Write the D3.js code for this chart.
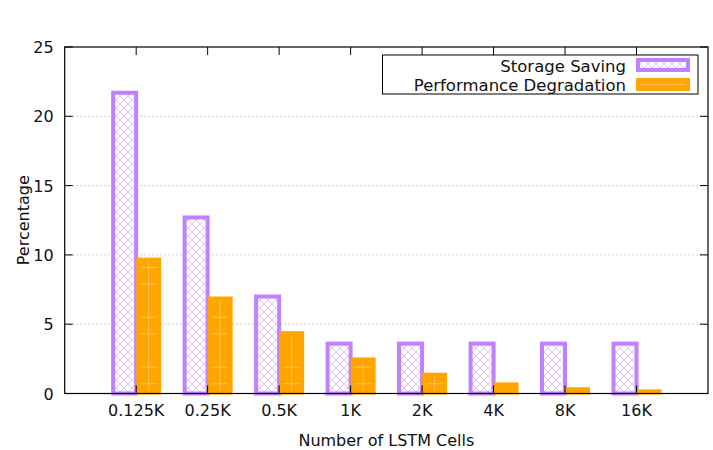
<!DOCTYPE html>
<html lang="en">
	<head>
		<meta charset="utf-8">
		<title>LSTM cells chart</title>
		<script type="text/javascript" src="https://cdn.jsdelivr.net/npm/d3@7"></script>
		<style type="text/css">
			body { margin: 0; background: #fff; }
			text { font-family: "DejaVu Sans", sans-serif; fill: #111; }
		</style>
	</head>
	<body>
		<script type="text/javascript">

			//Data
			var categories = ["0.125K", "0.25K", "0.5K", "1K", "2K", "4K", "8K", "16K"];
			var storageSaving = [21.7, 12.7, 7.0, 3.6, 3.6, 3.6, 3.6, 3.6];
			var perfDegradation = [9.8, 7.0, 4.5, 2.6, 1.5, 0.8, 0.45, 0.3];
			var yTicks = [0, 5, 10, 15, 20, 25];
			var seriesNames = ["Storage Saving", "Performance Degradation"];

			//Width and height (note: "top" is taken by window.top)
			var w = 713;
			var h = 450;
			var plotL = 64.7, plotR = 708, plotT = 47, plotB = 393.5;

			var purple = "#c080ff";
			var orange = "#ffa500";
			var fontSize = "16px";
			var legendFont = "16.5px";

			var svg = d3.select("body")
						.append("svg")
						.attr("width", w)
						.attr("height", h);

			//Scales (index domain, gnuplot style -1 .. n)
			var xScale = d3.scaleLinear()
							.domain([-1, categories.length])
							.range([plotL, plotR]);
			var yScale = d3.scaleLinear()
							.domain([0, 25])
							.range([plotB, plotT]);

			var barW = 0.35;

			//Patterns
			var defs = svg.append("defs");
			var hatch = defs.append("pattern")
				.attr("id", "hatch")
				.attr("patternUnits", "userSpaceOnUse")
				.attr("width", 8)
				.attr("height", 8);
			hatch.append("rect").attr("width", 8).attr("height", 8).attr("fill", "#fff");
			hatch.append("path")
				.attr("d", "M0,0L8,8M8,0L0,8")
				.attr("stroke", "#d9bcff")
				.attr("stroke-width", 0.9);

			//Grid
			svg.append("g")
				.selectAll("line")
				.data(yTicks.filter(function(d) { return d > 0 && d < 25; }))
				.enter()
				.append("line")
				.attr("x1", plotL)
				.attr("x2", plotR)
				.attr("y1", function(d) { return yScale(d); })
				.attr("y2", function(d) { return yScale(d); })
				.attr("stroke", "#999")
				.attr("stroke-width", 1)
				.attr("stroke-dasharray", "1,3");

			//Storage bars
			svg.append("g")
				.selectAll("rect")
				.data(storageSaving)
				.enter()
				.append("rect")
				.attr("x", function(d, i) { return xScale(i - barW) + 2; })
				.attr("y", function(d) { return yScale(d); })
				.attr("width", function() { return xScale(barW) - xScale(0) - 2; })
				.attr("height", function(d) { return yScale(0) - yScale(d); })
				.attr("fill", "url(#hatch)")
				.attr("stroke", purple)
				.attr("stroke-width", 4);

			//Performance bars
			var pg = svg.append("g");
			pg.selectAll("rect")
				.data(perfDegradation)
				.enter()
				.append("rect")
				.attr("x", function(d, i) { return xScale(i); })
				.attr("y", function(d) { return yScale(d); })
				.attr("width", function() { return xScale(barW) - xScale(0); })
				.attr("height", function(d) { return yScale(0) - yScale(d) + 1; })
				.attr("fill", orange);

			//faint marks inside orange bars
			var markYs = [0.7, 1.9, 4.3, 5.5, 7.9, 9.1];
			perfDegradation.forEach(function(d, i) {
				var x0 = xScale(i), x1 = xScale(i + barW);
				var cx = (x0 + x1) / 2;
				var yTop = yScale(d);
				if (yScale(0) - yTop > 20) {
					pg.append("line")
						.attr("x1", cx).attr("x2", cx)
						.attr("y1", yTop + 4).attr("y2", yScale(0) - 3)
						.attr("stroke", "#ffcf78").attr("stroke-width", 0.7);
					markYs.filter(function(m) { return m < d - 0.2; }).forEach(function(m) {
						pg.append("line")
							.attr("x1", x0 + 4).attr("x2", x1 - 4)
							.attr("y1", yScale(m)).attr("y2", yScale(m))
							.attr("stroke", "#ffcf78").attr("stroke-width", 0.7);
					});
				}
			});

			//Frame
			svg.append("rect")
				.attr("x", plotL)
				.attr("y", plotT)
				.attr("width", plotR - plotL)
				.attr("height", plotB - plotT)
				.attr("fill", "none")
				.attr("stroke", "#000")
				.attr("stroke-width", 1.2);

			//Ticks
			var tickG = svg.append("g").attr("stroke", "#000").attr("stroke-width", 1);
			yTicks.forEach(function(t) {
				var y = yScale(t);
				tickG.append("line").attr("x1", plotL).attr("x2", plotL + 8).attr("y1", y).attr("y2", y);
				tickG.append("line").attr("x1", plotR).attr("x2", plotR - 8).attr("y1", y).attr("y2", y);
			});
			categories.forEach(function(c, i) {
				var x = xScale(i);
				tickG.append("line").attr("x1", x).attr("x2", x).attr("y1", plotT).attr("y2", plotT + 8);
				tickG.append("line").attr("x1", x).attr("x2", x).attr("y1", plotB).attr("y2", plotB - 8);
			});

			//Tick labels
			svg.append("g")
				.selectAll("text")
				.data(yTicks)
				.enter()
				.append("text")
				.attr("x", plotL - 11)
				.attr("y", function(d) { return yScale(d) + 6; })
				.attr("text-anchor", "end")
				.attr("font-size", fontSize)
				.text(function(d) { return d; });

			svg.append("g")
				.selectAll("text")
				.data(categories)
				.enter()
				.append("text")
				.attr("x", function(d, i) { return xScale(i); })
				.attr("y", 416)
				.attr("text-anchor", "middle")
				.attr("font-size", fontSize)
				.text(function(d) { return d; });

			//Axis labels
			svg.append("text")
				.attr("x", (plotL + plotR) / 2)
				.attr("y", 446)
				.attr("text-anchor", "middle")
				.attr("font-size", fontSize)
				.text("Number of LSTM Cells");

			svg.append("text")
				.attr("transform", "translate(29," + ((plotT + plotB) / 2) + ") rotate(-90)")
				.attr("text-anchor", "middle")
				.attr("font-size", fontSize)
				.text("Percentage");

			//Legend
			var lg = svg.append("g");
			lg.append("rect")
				.attr("x", 382.5).attr("y", 55)
				.attr("width", 315.5).attr("height", 39)
				.attr("fill", "#fff")
				.attr("stroke", "#000")
				.attr("stroke-width", 1);
			lg.append("text")
				.attr("x", 626).attr("y", 71.5)
				.attr("text-anchor", "end").attr("font-size", legendFont)
				.text(seriesNames[0]);
			lg.append("text")
				.attr("x", 626).attr("y", 90.5)
				.attr("text-anchor", "end").attr("font-size", legendFont)
				.text(seriesNames[1]);
			lg.append("rect")
				.attr("x", 638).attr("y", 60)
				.attr("width", 50).attr("height", 10)
				.attr("fill", "url(#hatch)")
				.attr("stroke", purple).attr("stroke-width", 4);
			lg.append("rect")
				.attr("x", 636).attr("y", 78)
				.attr("width", 54).attr("height", 13)
				.attr("fill", orange);
			lg.append("line")
				.attr("x1", 640).attr("x2", 686).attr("y1", 84.5).attr("y2", 84.5)
				.attr("stroke", "#ffcf78").attr("stroke-width", 0.7);

		</script>
	</body>
</html>
